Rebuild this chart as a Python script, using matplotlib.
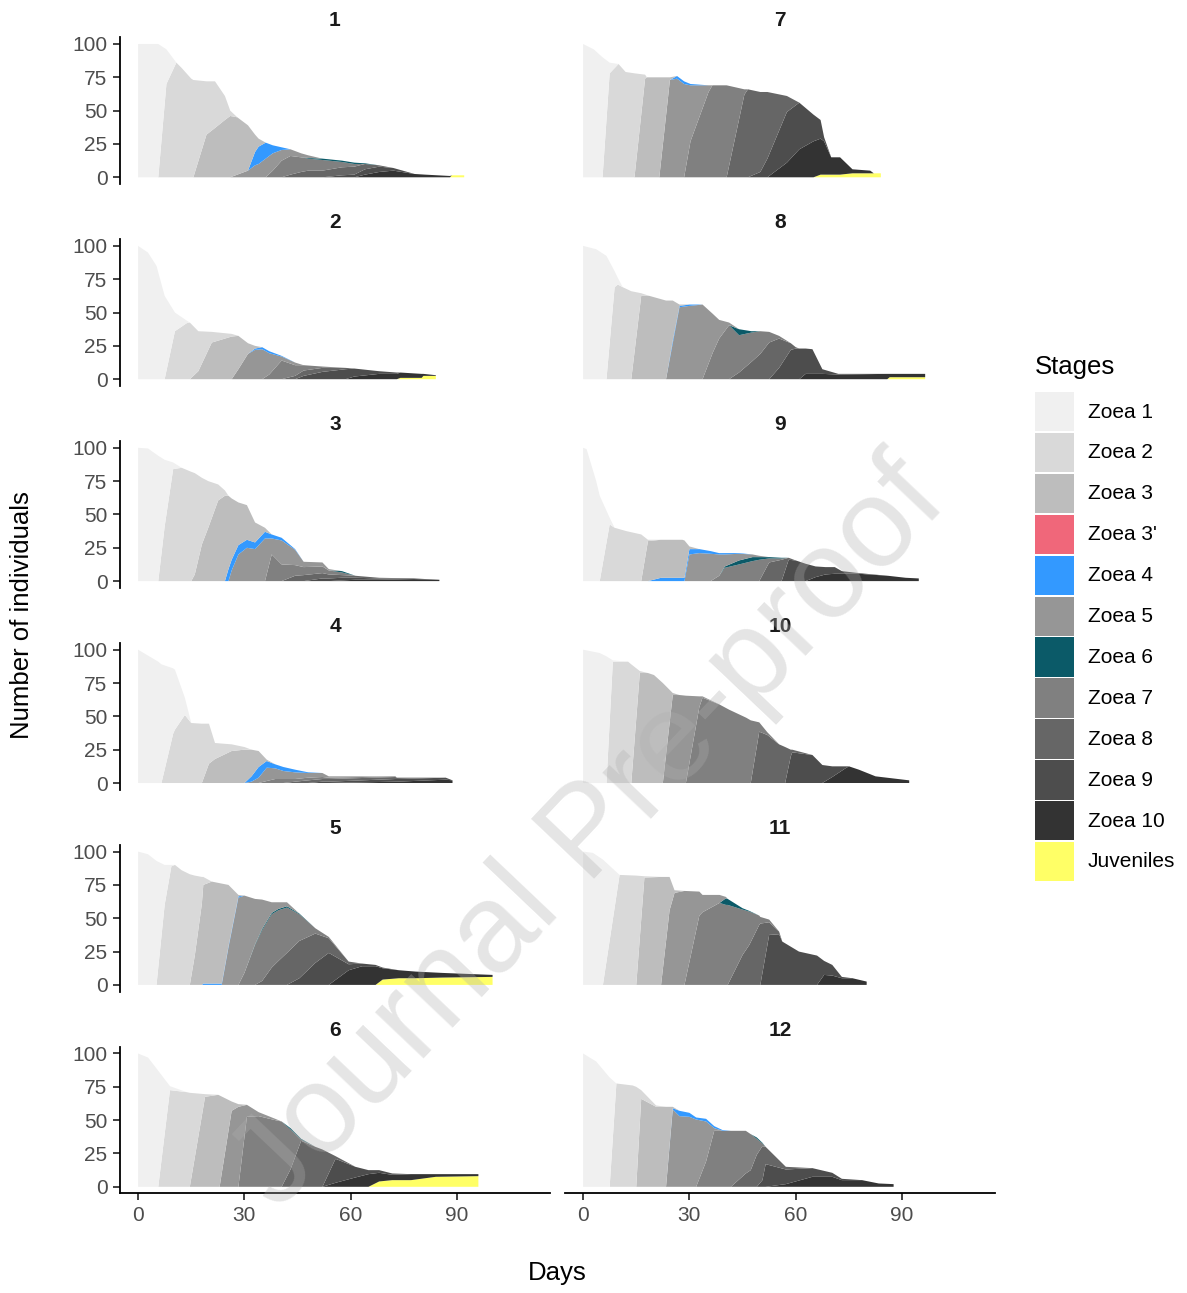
import matplotlib
matplotlib.use('Agg')
import matplotlib.pyplot as plt
from matplotlib.patches import Rectangle

plt.rcParams['font.family'] = ['Liberation Sans', 'DejaVu Sans']

stages = ['Zoea 1', 'Zoea 2', 'Zoea 3', "Zoea 3'", 'Zoea 4', 'Zoea 5',
          'Zoea 6', 'Zoea 7', 'Zoea 8', 'Zoea 9', 'Zoea 10', 'Juveniles']
keys = ['Z1', 'Z2', 'Z3', 'Z3p', 'Z4', 'Z5', 'Z6', 'Z7', 'Z8', 'Z9', 'Z10', 'J']
colors = ['#F0F0F0', '#D9D9D9', '#BDBDBD', '#F0677A', '#3399FF', '#969696',
          '#0B5A68', '#808080', '#666666', '#4D4D4D', '#333333', '#FFFF66']

x_ticks = [0, 30, 60, 90]
y_ticks = [0, 25, 50, 75, 100]

# number of individuals in each stage, per day (stages not listed = 0)
p1 = [
    (0, dict(Z1=100)), (5.7, dict(Z1=100)), (8, dict(Z1=26, Z2=70)),
    (10.8, dict(Z2=86)), (12.3, dict(Z2=82)), (15, dict(Z2=74)),
    (15.6, dict(Z2=73)), (19.3, dict(Z2=40, Z3=32)), (21.7, dict(Z2=35, Z3=37)),
    (24.5, dict(Z2=18, Z3=43)), (26, dict(Z2=4, Z3=46)), (28, dict(Z3=43, Z5=2)),
    (31, dict(Z3=34, Z5=5)), (33, dict(Z3=13, Z4=10, Z5=9)),
    (34, dict(Z3=6, Z4=13, Z5=10)), (36, dict(Z4=12, Z5=14)),
    (38, dict(Z4=6, Z5=13, Z7=5)), (40.5, dict(Z4=2, Z5=8, Z7=12.5)),
    (43, dict(Z5=5, Z7=14, Z8=2)), (46, dict(Z5=3, Z7=11, Z8=4)),
    (48, dict(Z5=2, Z6=0.5, Z7=9, Z8=5)), (52, dict(Z6=1, Z7=8, Z8=5)),
    (57.5, dict(Z6=1, Z7=4, Z8=6, Z9=1.5)), (61, dict(Z6=1, Z7=2, Z8=6, Z9=2)),
    (64, dict(Z6=0.5, Z8=4, Z9=4, Z10=2)), (68, dict(Z8=1, Z9=4, Z10=4)),
    (72, dict(Z9=2, Z10=5)), (78, dict(Z10=2.5)), (81, dict(Z10=2)),
    (88, dict(Z10=1)), (88.5, dict(J=1.5)), (92, dict(J=1.5)),
]
p2 = [
    (0, dict(Z1=100)), (2.8, dict(Z1=95)), (5.2, dict(Z1=85)), (7.5, dict(Z1=62.5)),
    (10.4, dict(Z1=14, Z2=36)), (13.7, dict(Z1=2, Z2=42)), (14.6, dict(Z2=42.5)),
    (17, dict(Z2=30, Z3=6)), (20.8, dict(Z2=8, Z3=27.5)), (26.4, dict(Z2=2, Z3=32)),
    (28.3, dict(Z3=25, Z5=7.5)), (31, dict(Z3=8, Z5=19)),
    (33, dict(Z3=2, Z4=1, Z5=22)), (35, dict(Z4=1.5, Z5=22.5)),
    (37, dict(Z4=1.5, Z5=16, Z7=3.5)), (40.5, dict(Z4=0.5, Z5=3, Z7=14)),
    (44.3, dict(Z5=2, Z7=8, Z8=2.5)), (46.7, dict(Z7=4, Z8=4, Z9=2.5)),
    (52, dict(Z7=1, Z8=3, Z9=5.5)), (58.5, dict(Z8=1, Z9=7.5)),
    (61, dict(Z9=6, Z10=2)), (68, dict(Z9=2, Z10=4)), (73, dict(Z9=1, Z10=4)),
    (74, dict(Z10=4, J=1)), (80, dict(Z10=3, J=1)), (80.5, dict(Z10=1.5, J=2.5)),
    (84, dict(Z10=0.5, J=2.5)),
]
p3 = [
    (0, dict(Z1=100)), (2.8, dict(Z1=99.5)), (5.7, dict(Z1=94)),
    (7.5, dict(Z1=50, Z2=41)), (9.9, dict(Z1=5, Z2=84)), (12.3, dict(Z2=85)),
    (15, dict(Z2=82)), (16, dict(Z2=76, Z3=5)), (18, dict(Z2=50, Z3=27.5)),
    (19.8, dict(Z2=35, Z3=40)), (22.6, dict(Z2=12, Z3=60.5)),
    (24.5, dict(Z2=4, Z3=64)), (25.5, dict(Z3=55, Z4=9)),
    (26.4, dict(Z3=46, Z4=8, Z5=8)), (28.3, dict(Z3=32, Z4=7, Z5=20)),
    (30.7, dict(Z3=26, Z4=6, Z5=25)), (33, dict(Z3=15, Z4=5, Z5=24)),
    (35.8, dict(Z3=3, Z4=5, Z5=32)), (37.7, dict(Z4=3, Z5=12, Z7=20)),
    (40.5, dict(Z4=2, Z5=18, Z7=12.5)), (44.3, dict(Z4=0.5, Z5=11.5, Z7=8, Z8=4)),
    (46.7, dict(Z5=4, Z7=6, Z8=4.5)), (52, dict(Z5=3, Z7=5, Z8=4, Z9=2)),
    (53.8, dict(Z5=1, Z7=3, Z8=3, Z9=2)), (57.5, dict(Z6=1, Z7=2, Z8=2, Z9=2, Z10=0.5)),
    (61.3, dict(Z8=1.5, Z9=1.5, Z10=1)), (68, dict(Z8=0.5, Z9=1, Z10=1)),
    (77.8, dict(Z9=0.5, Z10=1.5)), (85, dict(Z10=1)),
]
p4 = [
    (0, dict(Z1=100)), (5.7, dict(Z1=91)), (6.6, dict(Z1=89)),
    (9.9, dict(Z1=49, Z2=37)), (10.4, dict(Z1=45, Z2=40)), (13.2, dict(Z1=13, Z2=51)),
    (15, dict(Z2=45)), (18, dict(Z2=44.5)), (20, dict(Z2=30, Z3=14.5)),
    (21.7, dict(Z2=12, Z3=18)), (26.4, dict(Z2=5, Z3=24)), (30, dict(Z2=2, Z3=25)),
    (32, dict(Z3=20, Z4=4, Z5=1)), (34, dict(Z3=12, Z4=8, Z5=4)),
    (36.3, dict(Z3=1, Z4=5, Z5=10, Z7=1.5)), (38.7, dict(Z4=3, Z5=8, Z7=3)),
    (41, dict(Z4=3, Z5=6, Z7=3)), (44.3, dict(Z4=2, Z5=5, Z7=2, Z8=1)),
    (48, dict(Z4=0.5, Z5=3.5, Z7=2, Z8=2)), (52, dict(Z5=3, Z7=1.5, Z8=2, Z9=1)),
    (53.8, dict(Z5=1, Z7=1, Z8=2, Z9=1)), (72.6, dict(Z7=0.5, Z8=1.5, Z9=2, Z10=1)),
    (73, dict(Z8=1, Z9=2, Z10=1)), (86.8, dict(Z9=1.5, Z10=2.5)), (88.7, dict(Z10=2)),
]
p5 = [
    (0, dict(Z1=100)), (2.8, dict(Z1=98)), (5.2, dict(Z1=93)),
    (7.5, dict(Z1=30, Z2=60)), (9.4, dict(Z1=1, Z2=89)), (10.4, dict(Z2=90)),
    (12.3, dict(Z2=86)), (14.6, dict(Z2=83)), (16, dict(Z2=60, Z3=22)),
    (18, dict(Z2=20, Z3=61)), (18.4, dict(Z2=6, Z3=74, Z4=1)),
    (20.8, dict(Z3=76.5, Z4=1)), (23.6, dict(Z3=75, Z4=1)),
    (25.5, dict(Z3=46, Z4=1, Z5=28)), (28.3, dict(Z3=1, Z4=1, Z5=65.5)),
    (30, dict(Z5=58, Z7=9)), (33, dict(Z5=34, Z6=0.5, Z7=30)),
    (35, dict(Z5=22, Z6=1, Z7=38, Z8=3)), (37.7, dict(Z5=8, Z6=1, Z7=40, Z8=13)),
    (39.6, dict(Z5=5, Z6=1, Z7=38, Z8=18)), (42, dict(Z5=3, Z6=1, Z7=34, Z8=24)),
    (45.5, dict(Z6=0.5, Z7=20, Z8=28, Z9=5)), (50, dict(Z7=4, Z8=22, Z9=16.5)),
    (53.8, dict(Z7=1, Z8=11, Z9=24)), (59.4, dict(Z8=2, Z9=4.5, Z10=11)),
    (63.2, dict(Z9=2, Z10=14)), (67, dict(Z9=1, Z10=14)),
    (69, dict(Z9=0.5, Z10=8.5, J=4)), (73.6, dict(Z10=6, J=5)),
    (78.3, dict(Z10=5, J=5)), (85.8, dict(Z10=3.5, J=5.5)), (100, dict(Z10=1.5, J=6)),
]
p6 = [
    (0, dict(Z1=100)), (2.8, dict(Z1=97)), (5.7, dict(Z1=87)),
    (9, dict(Z1=3, Z2=72.5)), (13.7, dict(Z2=71)), (14.6, dict(Z2=70.5)),
    (18.9, dict(Z2=2, Z3=67.5)), (22.6, dict(Z3=69)), (23, dict(Z3=68.5)),
    (26.4, dict(Z3=7, Z5=57)), (28.3, dict(Z3=2, Z5=60)), (30.7, dict(Z5=9, Z7=52.5)),
    (34, dict(Z5=3, Z7=53)), (38.7, dict(Z5=1, Z7=50)), (40.5, dict(Z7=49)),
    (43, dict(Z6=1, Z7=30, Z8=13)), (46, dict(Z6=0.5, Z7=1, Z8=34.5)),
    (50, dict(Z8=30)), (52, dict(Z8=28)), (55.7, dict(Z8=2, Z9=18, Z10=3)),
    (61.3, dict(Z9=8, Z10=7)), (65, dict(Z9=3, Z10=9.5)),
    (68, dict(Z9=2, Z10=6.5, J=4)), (71.7, dict(Z9=1, Z10=4, J=5)),
    (77, dict(Z10=4.5, J=5)), (84, dict(Z10=2, J=7.5)), (96, dict(Z10=1.5, J=8)),
]
p7 = [
    (0, dict(Z1=100)), (3, dict(Z1=96)), (5.5, dict(Z1=90)), (7.5, dict(Z1=8, Z2=78)),
    (10, dict(Z2=85)), (12, dict(Z2=79)), (14.5, dict(Z2=78)), (17.5, dict(Z2=3, Z3=74)),
    (18, dict(Z3=75)), (21.5, dict(Z3=75)), (24.5, dict(Z3=2, Z5=73)),
    (26.5, dict(Z4=2, Z5=74)), (28.5, dict(Z4=2, Z5=70)),
    (30.3, dict(Z4=1, Z5=42, Z7=27)), (35.4, dict(Z5=5, Z7=64)), (36.5, dict(Z7=69)),
    (40.5, dict(Z7=69)), (45.5, dict(Z7=4, Z8=62)), (46.5, dict(Z8=66)),
    (50, dict(Z8=60, Z9=4)), (52, dict(Z8=50, Z9=14)), (57.5, dict(Z8=12, Z9=38, Z10=11)),
    (61, dict(Z9=35, Z10=21)), (65, dict(Z9=20, Z10=27)), (67, dict(Z9=14, Z10=27, J=2)),
    (68, dict(Z9=3, Z10=25, J=2)), (70, dict(Z10=13, J=2)), (72.5, dict(Z10=13, J=2)),
    (76, dict(Z10=3, J=3)), (81, dict(Z10=2, J=3)), (82, dict(J=3)), (84, dict(J=3)),
]
p8 = [
    (0, dict(Z1=100)), (3.7, dict(Z1=97.5)), (6.6, dict(Z1=92.5)),
    (8.9, dict(Z1=12, Z2=69)), (9.8, dict(Z1=5, Z2=71)), (11.2, dict(Z2=69)),
    (13.6, dict(Z2=66)), (16.4, dict(Z2=2, Z3=62.5)), (18.7, dict(Z3=62.5)),
    (23.4, dict(Z3=59)), (25.3, dict(Z3=30, Z4=2, Z5=27)), (27.2, dict(Z3=1, Z4=1, Z5=54)),
    (30, dict(Z4=1, Z5=55)), (33.7, dict(Z5=56)), (36.6, dict(Z5=29, Z7=20)),
    (38.4, dict(Z5=14, Z7=30.5)), (41.2, dict(Z5=2, Z7=40.5)),
    (44, dict(Z6=4.5, Z7=28, Z8=5)), (47.5, dict(Z6=1, Z7=22, Z8=13)),
    (50, dict(Z7=17, Z8=19)), (52.5, dict(Z7=8, Z8=27.5)),
    (55.3, dict(Z7=2, Z8=22, Z9=8.5)), (58.6, dict(Z8=5, Z9=22)), (60, dict(Z8=1, Z9=23)),
    (61, dict(Z9=23)), (62.8, dict(Z9=19, Z10=4)), (64.7, dict(Z9=18.5, Z10=4)),
    (67.5, dict(Z9=3.5, Z10=4)), (72, dict(Z9=0.5, Z10=3.5)), (85.8, dict(Z10=4)),
    (86.5, dict(Z10=2.5, J=1.5)), (96.5, dict(Z10=2.5, J=1.5)),
]
p9 = [
    (0, dict(Z1=100)), (1, dict(Z1=99)), (3.7, dict(Z1=75)), (4.7, dict(Z1=64)),
    (7.5, dict(Z1=5, Z2=42.5)), (8.9, dict(Z2=40)), (12.2, dict(Z2=37.5)),
    (16.4, dict(Z2=35)), (18.3, dict(Z2=1, Z3=30)), (22, dict(Z3=28.5, Z4=2.5)),
    (28, dict(Z3=28.5, Z4=2.5)), (28.6, dict(Z3=28, Z4=2.5)),
    (30, dict(Z3=2, Z4=4, Z5=20)), (32.8, dict(Z4=3, Z5=21)),
    (36, dict(Z4=2, Z5=20.5)), (38.4, dict(Z4=1, Z5=16, Z7=4)),
    (40, dict(Z4=1, Z5=9, Z6=1, Z7=10)), (44, dict(Z4=0.5, Z5=5, Z6=3, Z7=12.5)),
    (47.8, dict(Z5=2, Z6=3, Z7=15)), (49.7, dict(Z5=1, Z6=2, Z7=16)),
    (52.5, dict(Z6=1, Z7=3, Z8=14)), (56, dict(Z6=0.5, Z7=1, Z8=16)),
    (58, dict(Z8=1.5, Z9=16)), (60, dict(Z9=15.5)), (62.8, dict(Z9=13)),
    (65.6, dict(Z9=8, Z10=3)), (68.4, dict(Z9=5.5, Z10=5)), (71, dict(Z9=5, Z10=5.5)),
    (73, dict(Z9=2, Z10=5.5)), (77.8, dict(Z9=0.5, Z10=5.5)), (86, dict(Z10=4)),
    (91, dict(Z10=2.5)), (94.7, dict(Z10=2)),
]
p10 = [
    (0, dict(Z1=100)), (4.7, dict(Z1=97.5)), (6.6, dict(Z1=95)), (8.4, dict(Z1=1, Z2=91)),
    (12.7, dict(Z2=91)), (13.6, dict(Z2=89)), (16, dict(Z2=1.5, Z3=82.5)),
    (18.3, dict(Z3=82.5)), (20, dict(Z3=81)), (22.5, dict(Z3=75)),
    (25.3, dict(Z3=1.5, Z5=66)), (27.2, dict(Z5=66)), (29, dict(Z5=65.5)),
    (32.8, dict(Z5=8, Z7=57)), (33.7, dict(Z5=1, Z7=64)), (38.4, dict(Z7=59)),
    (41.2, dict(Z7=55)), (46, dict(Z7=49)), (47.3, dict(Z7=47)),
    (49.7, dict(Z7=7, Z8=38.5)), (52, dict(Z7=2, Z8=36)), (55.3, dict(Z8=29)),
    (57, dict(Z8=27)), (58.6, dict(Z8=5, Z9=20)), (59, dict(Z8=2, Z9=23)),
    (64.7, dict(Z9=21)), (67.5, dict(Z9=13.5)), (70.3, dict(Z9=8, Z10=4.5)),
    (74, dict(Z9=1.5, Z10=11)), (75, dict(Z10=12.5)), (77.8, dict(Z10=10)),
    (82.5, dict(Z10=5)), (92, dict(Z10=2)),
]
p11 = [
    (0, dict(Z1=100)), (2.8, dict(Z1=99)), (5.6, dict(Z1=94)), (10.3, dict(Z2=82.5)),
    (15, dict(Z2=82)), (17.3, dict(Z2=1, Z3=80.5)), (22, dict(Z3=81)),
    (24.4, dict(Z3=25, Z5=56)), (25.8, dict(Z3=2, Z5=69)), (28.6, dict(Z5=70.5)),
    (32.8, dict(Z5=18, Z7=52)), (33.7, dict(Z5=13, Z7=54.5)),
    (38.5, dict(Z5=6, Z7=61.5)), (40.3, dict(Z5=1, Z6=5, Z7=60)),
    (40.8, dict(Z6=4.5, Z7=60)), (45, dict(Z6=1, Z7=34, Z8=22.5)),
    (46.9, dict(Z6=0.5, Z7=25, Z8=30)), (49.7, dict(Z7=7, Z8=45)),
    (50, dict(Z7=5, Z8=46)), (52.5, dict(Z7=2, Z8=9.5, Z9=37.5)),
    (55.3, dict(Z8=2, Z9=38)), (56.2, dict(Z9=32.5)), (60.9, dict(Z9=25)),
    (66, dict(Z9=22)), (68, dict(Z9=10.5, Z10=7.5)), (70.3, dict(Z9=8, Z10=7)),
    (73, dict(Z9=1, Z10=5)), (76, dict(Z10=5)), (80, dict(Z10=2.5)),
]
p12 = [
    (0, dict(Z1=100)), (3.7, dict(Z1=94)), (7.5, dict(Z1=82)), (9.4, dict(Z2=77.5)),
    (14, dict(Z2=76)), (15, dict(Z2=75)), (16.4, dict(Z2=6.5, Z3=66)),
    (20.6, dict(Z2=1, Z3=60)), (23.4, dict(Z3=60)), (25.3, dict(Z3=1, Z4=1, Z5=58)),
    (27.2, dict(Z4=4, Z5=53)), (30, dict(Z4=3, Z5=52.5)), (31.9, dict(Z4=1.5, Z5=50.5)),
    (34.7, dict(Z4=2, Z5=30, Z7=19)), (37, dict(Z4=1.5, Z5=2, Z7=42)),
    (39.4, dict(Z4=0.5, Z7=42)), (41.7, dict(Z7=42)), (45.9, dict(Z7=32, Z8=10)),
    (47.3, dict(Z7=27, Z8=12.5)), (49, dict(Z6=1, Z7=12, Z8=24)),
    (50.6, dict(Z6=0.5, Z7=2, Z8=25.5, Z9=5)), (51.5, dict(Z8=13, Z9=17)),
    (57.2, dict(Z8=2, Z9=11, Z10=2)), (64.7, dict(Z9=6.5, Z10=7.5)),
    (70.3, dict(Z9=3, Z10=7.5)), (73, dict(Z9=1, Z10=5)), (78.7, dict(Z10=5)),
    (83.4, dict(Z10=2.5)), (87.6, dict(Z10=2)),
]

panels = [p1, p2, p3, p4, p5, p6, p7, p8, p9, p10, p11, p12]

W, H = 1187, 1293
fig = plt.figure(figsize=(W / 100, H / 100), dpi=100)


def px_axes(x0, y0, x1, y1):
    return fig.add_axes([x0 / W, 1 - y1 / H, (x1 - x0) / W, (y1 - y0) / H])


ROW_STEP = 201.9
for i, rows in enumerate(panels):
    col, r = divmod(i, 6)
    x0 = 120 if col == 0 else 565
    top = 44 + ROW_STEP * r - 6.67
    bot = 177.3 + ROW_STEP * r + 6.67
    ax = px_axes(x0, top, x0 + 430, bot)

    days = [d for d, _ in rows]
    counts = [[c.get(k, 0) for _, c in rows] for k in keys]
    # first stage on top, like ggplot's default stacking
    ax.stackplot(days, counts[::-1], colors=colors[::-1], linewidth=0)

    ax.set_xlim(-5.1, 116.2)
    ax.set_ylim(-5, 105)
    for s in ['top', 'right']:
        ax.spines[s].set_visible(False)
    ax.spines['left'].set_visible(col == 0)
    ax.spines['bottom'].set_visible(r == 5)
    for s in ['left', 'bottom']:
        ax.spines[s].set_linewidth(1.3)
        ax.spines[s].set_color('black')
    if col == 0:
        ax.set_yticks(y_ticks)
    else:
        ax.set_yticks([])
    if r == 5:
        ax.set_xticks(x_ticks)
    else:
        ax.set_xticks([])
    ax.tick_params(length=5, width=1.3, color='#333333', labelcolor='#4D4D4D',
                   labelsize=15, pad=4)

    fig.text((x0 + 215) / W, 1 - (26.5 + ROW_STEP * r) / H, str(i + 1),
             ha='center', va='baseline', fontsize=15, fontweight='bold', color='#1A1A1A')

fig.text(557.5 / W, 1 - 1273 / H, 'Days', ha='center', va='center', fontsize=18.5)
fig.text(22 / W, 1 - 615 / H, 'Number of individuals', ha='center', va='center',
         rotation=90, fontsize=18.5)

# legend, laid out in pixel units
lax = px_axes(1030, 340, 1187, 900)
lax.set_xlim(1030, 1187)
lax.set_ylim(900, 340)
lax.axis('off')
lax.text(1035, 367, 'Stages', ha='left', va='center', fontsize=18.5)
for j, (name, c) in enumerate(zip(stages, colors)):
    ytop = 392 + 40.9 * j
    lax.add_patch(Rectangle((1035, ytop), 39, 39.4, facecolor=c, edgecolor='none'))
    lax.text(1088, ytop + 20, name, ha='left', va='center', fontsize=15)

# watermark of the preprint
fig.text(590 / W, 1 - 835 / H, 'Journal Pre-proof', ha='center', va='center',
         rotation=46.5, rotation_mode='anchor', fontsize=91, color='#afafaf',
         alpha=0.32, zorder=10)

fig.savefig('out.png', dpi=100)
